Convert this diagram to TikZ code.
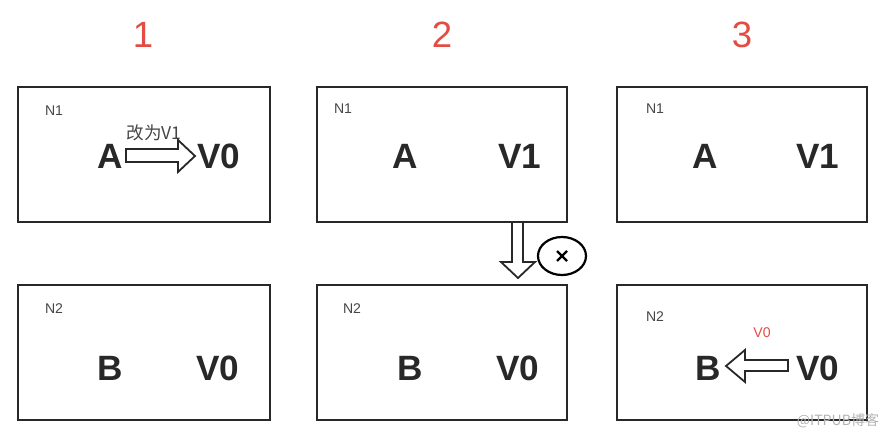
\documentclass[tikz,border=0pt]{standalone}
\usepackage{fontspec}
\setmainfont{Liberation Sans}
\newfontfamily\cjk{Noto Sans CJK SC}
\definecolor{numred}{RGB}{226,76,66}
\definecolor{boxgray}{RGB}{40,40,40}
\definecolor{txtgray}{RGB}{70,70,70}
\tikzset{
  big/.style={font=\fontsize{25}{25}\bfseries\selectfont, text=boxgray},
  small/.style={font=\fontsize{10}{10}\selectfont, text=txtgray},
  num/.style={font=\fontsize{26}{26}\selectfont, text=numred}
}
\begin{document}
\begin{tikzpicture}[x=0.025cm,y=-0.025cm]
            \useasboundingbox (0,0) rectangle (890,438);
            
            % step numbers
            \node[num] (n1) at (143,35) {1};
            \node[num] (n2) at (442,35) {2};
            \node[num] (n3) at (742,35) {3};
            
            % boxes
            \draw[line width = 0.65mm, boxgray] (18,87) rectangle (270,222);
            \draw[line width = 0.65mm, boxgray] (317,87) rectangle (567,222);
            \draw[line width = 0.65mm, boxgray] (617,87) rectangle (867,222);
            \draw[line width = 0.65mm, boxgray] (18,285) rectangle (270,420);
            \draw[line width = 0.65mm, boxgray] (317,285) rectangle (567,420);
            \draw[line width = 0.65mm, boxgray] (617,285) rectangle (867,420);
            
            % first column
            \node[small] (k1) at (54,111) {N1};
            \node[big] (a1) at (110,156) {A};
            \node[big] (v1) at (219,156) {V0};
            \node[font=\cjk\fontsize{12.5}{12.5}\selectfont, text=txtgray] (t1) at (154,133) {改为V1};
            \draw[line width = 0.45mm, boxgray] (126,149) -- (178,149) -- (178,140) -- (195,156)
                -- (178,172) -- (178,162) -- (126,162) -- cycle;
            \node[small] (k2) at (54,309) {N2};
            \node[big] (b1) at (110,368) {B};
            \node[big] (w1) at (218,368) {V0};
            
            % second column
            \node[small] (k3) at (343,109) {N1};
            \node[big] (a2) at (405,156) {A};
            \node[big] (v2) at (520,156) {V1};
            \node[small] (k4) at (352,309) {N2};
            \node[big] (b2) at (410,368) {B};
            \node[big] (w2) at (518,368) {V0};
            
            \draw[line width = 0.45mm, boxgray] (512,222) -- (512,262) -- (501,262) -- (518,278)
                -- (535,262) -- (523,262) -- (523,222);
            \draw[line width = 0.55mm, black] (562,256) ellipse (24 and 19);
            \draw[line width = 0.55mm, black] (557,251) -- (567,261);
            \draw[line width = 0.55mm, black] (557,261) -- (567,251);
            
            % third column
            \node[small] (k5) at (655,109) {N1};
            \node[big] (a3) at (705,156) {A};
            \node[big] (v3) at (818,156) {V1};
            \node[small] (k6) at (655,317) {N2};
            \node[font=\fontsize{10}{10}\selectfont, text=numred] (r3) at (762,333) {V0};
            \node[big] (b3) at (708,368) {B};
            \node[big] (w3) at (818,368) {V0};
            \draw[line width = 0.45mm, boxgray] (788,360) -- (745,360) -- (745,350) -- (726,366)
                -- (745,382) -- (745,371) -- (788,371) -- cycle;
            
            \node[font=\cjk\fontsize{10}{10}\selectfont, text=gray!60] (wm) at (838,421) {@ITPUB博客};
            
        \end{tikzpicture}
\end{document}
